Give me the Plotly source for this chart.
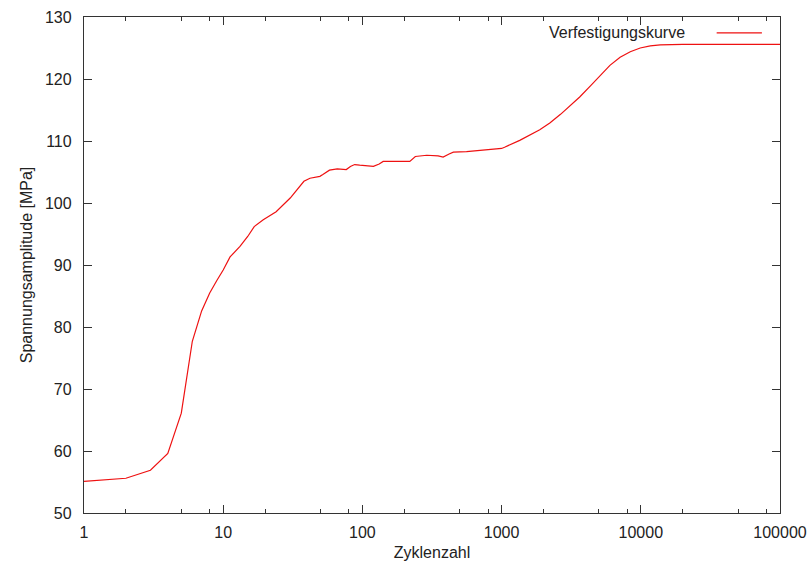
import plotly.graph_objects as go

# Zyklenzahl (cycles) and Spannungsamplitude [MPa]
cycles = [1, 2, 3, 4, 5, 6, 7, 8, 9, 10, 11.2, 12.5, 13.2, 15, 16.7, 19.4, 24, 30.3,
          35.5, 38, 42, 49.5, 52, 58, 66, 76.6, 82, 88, 95.6, 110, 120, 132, 141,
          158, 219, 240, 290, 350, 380, 420, 450, 560, 700, 1000, 1050, 1350, 1880, 2220, 2650,
          3100, 3640, 4400, 5300, 6000, 7100, 8400, 9900, 11700, 13800, 20000, 100000]
stress = [55.1, 55.6, 56.9, 59.6, 66.1, 77.7, 82.6, 85.5, 87.5, 89.2, 91.3, 92.4, 93.0, 94.6, 96.2, 97.3, 98.6, 100.8,
          102.7, 103.5, 104.0, 104.3, 104.6, 105.3, 105.5, 105.4, 105.9, 106.2, 106.1, 106.0, 105.9, 106.3, 106.7,
          106.7, 106.7, 107.5, 107.7, 107.6, 107.4, 107.9, 108.2, 108.3, 108.5, 108.8, 109.0, 110.1, 111.8, 112.9, 114.3,
          115.7, 117.1, 119.0, 121.0, 122.2, 123.5, 124.4, 125.0, 125.35, 125.5, 125.6, 125.6]

x_major = [1, 10, 100, 1000, 10000, 100000]
x_labels = ["1", "10", "100", "1000", "10000", "100000"]
x_minor = [m * d for d in [1, 10, 100, 1000, 10000] for m in (2, 5, 8)]
y_major = [50, 60, 70, 80, 90, 100, 110, 120, 130]

font = "Liberation Sans, Arial, Helvetica, sans-serif"
axcol = "#333333"
fs = 16

fig = go.Figure()
fig.add_trace(go.Scatter(x=cycles, y=stress, mode="lines",
                         line=dict(color="#ee1111", width=1.2),
                         name="Verfestigungskurve", showlegend=False))

fig.update_layout(
    width=810, height=562,
    margin=dict(l=84, r=30, t=17, b=49),
    paper_bgcolor="white", plot_bgcolor="white",
    font=dict(family=font, size=fs, color="#222222"),
    xaxis=dict(type="log", range=[0, 5], tickmode="array", tickvals=x_major, ticktext=x_labels,
               ticks="inside", ticklen=8, tickwidth=1, tickcolor=axcol,
               showline=True, linecolor=axcol, linewidth=1.3, mirror="allticks",
               showgrid=False, zeroline=False, automargin=False,
               minor=dict(tickmode="array", tickvals=x_minor, ticks="inside", ticklen=4,
                          tickcolor=axcol, tickwidth=1, showgrid=False),
               title=dict(text="Zyklenzahl", standoff=6, font=dict(size=fs)),
               tickfont=dict(size=fs), ticklabelstandoff=5),
    yaxis=dict(range=[50, 130], tickmode="array", tickvals=y_major,
               ticks="inside", ticklen=8, tickwidth=1, tickcolor=axcol,
               showline=True, linecolor=axcol, linewidth=1.3, mirror="allticks",
               showgrid=False, zeroline=False, automargin=False,
               title=dict(text="Spannungsamplitude [MPa]", standoff=8, font=dict(size=fs)),
               tickfont=dict(size=fs), ticklabelstandoff=8),
    showlegend=False,
)

# gnuplot-style key: text then sample line
fig.add_annotation(xref="paper", yref="paper", x=0.866, y=0.968, xanchor="right", yanchor="middle",
                   text="Verfestigungskurve", showarrow=False, font=dict(size=fs, color="#222222"))
fig.add_shape(type="line", xref="paper", yref="paper", x0=0.909, x1=0.974, y0=0.968, y1=0.968,
              line=dict(color="#ee1111", width=1.2))

fig.write_html("out.html")
